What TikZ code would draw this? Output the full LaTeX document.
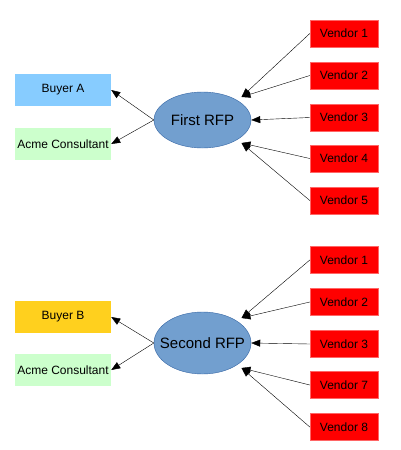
\documentclass[tikz,border=0pt]{standalone}
\usepackage{fontspec}
\setmainfont{Liberation Sans}
\usetikzlibrary{arrows.meta,shapes.geometric}
\definecolor{buyera}{RGB}{135,204,255}
\definecolor{buyerb}{RGB}{255,208,30}
\definecolor{consult}{RGB}{204,255,204}
\definecolor{vendred}{RGB}{255,0,0}
\definecolor{rfpfill}{RGB}{114,159,207}
\definecolor{rfpline}{RGB}{52,101,164}

\begin{document}
\begin{tikzpicture}[x=1pt,y=-1pt,
  party/.style={rectangle, inner sep=0pt, minimum width=96pt, minimum height=32pt, font=\fontsize{12}{14}\selectfont},
  vendor/.style={rectangle, fill=vendred, draw=red!60!white, inner sep=0pt, minimum width=68pt, minimum height=27pt, font=\fontsize{12}{14}\selectfont},
  rfp/.style={ellipse, fill=rfpfill, draw=rfpline, inner sep=0pt, minimum width=97pt, font=\fontsize{15}{17}\selectfont},
  link/.style={-{Triangle[length=9pt,width=7pt]}, thin}]
\useasboundingbox (0,0) rectangle (400,450);

% first round
\node[party, fill=buyera] (buyerA) at (63,90) {Buyer A};
\node[party, fill=consult] (acmeA) at (63,144) {Acme Consultant};
\node[rfp, minimum height=56pt] (first) at (202.5,120) {First RFP};

\node[vendor] (vA1) at (344,33.5) {Vendor 1};
\node[vendor] (vA2) at (344,75.5) {Vendor 2};
\node[vendor] (vA3) at (344,117.5) {Vendor 3};
\node[vendor] (vA4) at (344,158.5) {Vendor 4};
\node[vendor] (vA5) at (344,200.5) {Vendor 5};

\coordinate (firstNE) at ([shift={(39,-23)}]first.center);
\coordinate (firstSE) at ([shift={(39,23)}]first.center);

\draw[link] (first.west) -- (buyerA.east);
\draw[link] (first.west) -- (acmeA.east);
\draw[link] (vA1.west) -- (firstNE);
\draw[link] (vA2.west) -- (firstNE);
\draw[link] (vA3.west) -- (first.east);
\draw[link] (vA4.west) -- (firstSE);
\draw[link] (vA5.west) -- (firstSE);

% second round
\node[party, fill=buyerb] (buyerB) at (63,317) {Buyer B};
\node[party, fill=consult] (acmeB) at (63,370) {Acme Consultant};
\node[rfp, inner xsep=-8.5pt, minimum height=62pt] (second) at (202.5,343) {Second RFP};

\node[vendor] (vB1) at (344,260) {Vendor 1};
\node[vendor] (vB2) at (344,302) {Vendor 2};
\node[vendor] (vB3) at (344,344) {Vendor 3};
\node[vendor] (vB7) at (344,385) {Vendor 7};
\node[vendor] (vB8) at (344,427) {Vendor 8};

\coordinate (secondNE) at ([shift={(39,-25)}]second.center);
\coordinate (secondSE) at ([shift={(39,25)}]second.center);

\draw[link] (second.west) -- (buyerB.east);
\draw[link] (second.west) -- (acmeB.east);
\draw[link] (vB1.west) -- (secondNE);
\draw[link] (vB2.west) -- (secondNE);
\draw[link] (vB3.west) -- (second.east);
\draw[link] (vB7.west) -- (secondSE);
\draw[link] (vB8.west) -- (secondSE);
\end{tikzpicture}
\end{document}
